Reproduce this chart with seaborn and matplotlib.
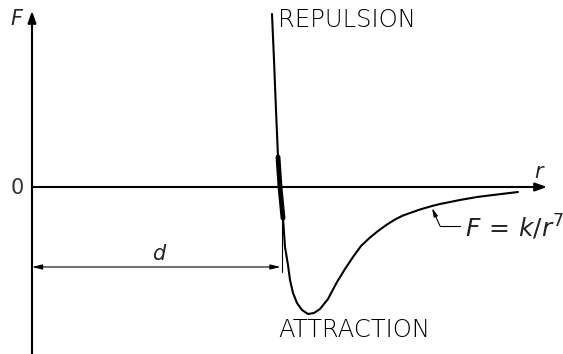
import matplotlib
matplotlib.use("Agg")
import matplotlib.pyplot as plt
import seaborn as sns

# force curve (r, F in arbitrary units)
r_vals = [4.80, 4.84, 4.88, 4.92, 4.96, 5.02, 5.06, 5.12, 5.16, 5.22, 5.30, 5.40,
          5.52, 5.64, 5.76, 5.92, 6.10, 6.26, 6.42, 6.58, 6.76, 6.92, 7.10, 7.26,
          7.42, 7.76, 8.00, 8.16, 8.56, 8.90, 9.22, 9.72]
F_vals = [3.46, 2.54, 1.54, 0.60, 0.00, -0.62, -1.20, -1.56, -1.86, -2.12, -2.32, -2.46,
          -2.54, -2.52, -2.44, -2.24, -1.90, -1.64, -1.40, -1.18, -1.01, -0.88, -0.75, -0.65,
          -0.57, -0.45, -0.38, -0.34, -0.26, -0.20, -0.16, -0.10]

# thick part of the curve near F = 0
thick_r = [4.92, 4.96, 5.02]
thick_F = [0.60, 0.00, -0.62]

d_value = 4.97
labels = {"top": "REPULSION", "bottom": "ATTRACTION", "law": "$F\\,=\\,k/r^7$"}

sns.set_style("white")
plt.rcParams['font.family'] = ['DejaVu Sans']
plt.rcParams['mathtext.fontset'] = 'dejavusans'

fig = plt.figure(figsize=(5.63, 3.54), dpi=100)
ax = fig.add_axes([0, 0, 1, 1])
ax.set_xlim(-0.64, 10.62)
ax.set_ylim(-3.34, 3.74)
ax.axis("off")

fs = 15
fs_txt = 17.5
arrow = dict(arrowstyle="-|>,head_length=0.7,head_width=0.25", color="black", lw=1.5,
             shrinkA=0, shrinkB=0)

# axes with arrows
ax.annotate("", xy=(0, 3.52), xytext=(0, -3.4), arrowprops=arrow)
ax.annotate("", xy=(10.3, 0), xytext=(0, 0), arrowprops=arrow)
ax.text(-0.3, 3.36, "$F$", fontsize=fs, ha="center", va="center")
ax.text(10.16, 0.3, "$r$", fontsize=fs, ha="center", va="center")
ax.text(-0.29, -0.02, "0", fontsize=fs, ha="center", va="center", color="#333333")

# curve
sns.lineplot(x=r_vals, y=F_vals, ax=ax, color="black", lw=1.5, sort=False, estimator=None)
sns.lineplot(x=thick_r, y=thick_F, ax=ax, color="black", lw=3.5, sort=False, estimator=None)

# dimension d
ax.plot([d_value + 0.02, d_value + 0.02], [-0.6, -1.7], color="black", lw=0.8)
dim = dict(arrowstyle="<|-|>,head_length=0.6,head_width=0.15", color="black", lw=0.8,
           shrinkA=0, shrinkB=0)
ax.annotate("", xy=(0, -1.6), xytext=(d_value, -1.6), arrowprops=dim)
ax.text(2.56, -1.34, "$d$", fontsize=fs, ha="center", va="center")

# labels
ax.text(4.92, 3.34, labels["top"], fontsize=fs_txt, ha="left", va="center",
        color="black", fontweight="light")
ax.text(4.92, -2.86, labels["bottom"], fontsize=fs_txt, ha="left", va="center",
        color="black", fontweight="light")

# leader to the formula
ax.plot([8.56, 8.16], [-0.78, -0.78], color="black", lw=0.8)
ax.annotate("", xy=(8.0, -0.42), xytext=(8.16, -0.78),
            arrowprops=dict(arrowstyle="-|>,head_length=0.5,head_width=0.12",
                            color="black", lw=0.8, shrinkA=0, shrinkB=0))
ax.text(8.66, -0.80, labels["law"], fontsize=18, ha="left", va="center", color="#222222")

fig.savefig("out.png", dpi=100)
